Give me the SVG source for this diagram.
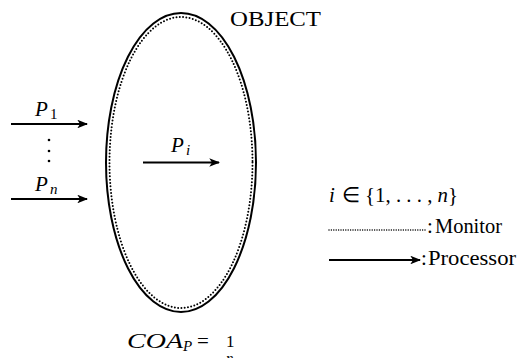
<svg xmlns="http://www.w3.org/2000/svg" width="517" height="358" viewBox="0 0 517 358">
<style>
.t{font-family:"Liberation Serif","Times New Roman",serif;font-size:21px;fill:#000}
.m{font-family:"Liberation Serif","Times New Roman",serif;font-style:italic;font-size:21px;fill:#000}
.s{font-size:15px}
.su{font-family:"Liberation Serif","Times New Roman",serif;font-size:15px;fill:#000}
.fr{font-family:"Liberation Serif","Times New Roman",serif;font-size:17px;fill:#000}
.arr{stroke:#000;stroke-width:1.8;fill:none;marker-end:url(#ah)}
.dot{stroke:#000;stroke-width:2;fill:none;stroke-linecap:round;stroke-dasharray:0 3.3}
.ldot{stroke:#000;stroke-width:1.5;fill:none;stroke-linecap:round;stroke-dasharray:0 2.4}
</style>
<defs>
<marker id="ah" viewBox="0 0 10 8" refX="9" refY="4" markerWidth="6" markerHeight="4.8" markerUnits="strokeWidth" orient="auto">
<path d="M0,0 L10,4 L0,8 L2.5,4 Z" fill="#000"/>
</marker>
</defs>
<rect width="517" height="358" fill="#fff"/>
<g id="object">
<ellipse cx="181" cy="162.5" rx="75" ry="149.5" fill="none" stroke="#000" stroke-width="2"/>
<ellipse class="dot" cx="181" cy="162.5" rx="71.5" ry="145.5"/>
<text class="t" x="230" y="26" textLength="91" lengthAdjust="spacingAndGlyphs">OBJECT</text>
</g>
<g id="connectors">
<line class="arr" x1="11" y1="124" x2="87" y2="124"/>
<line class="arr" x1="11" y1="199" x2="87" y2="199"/>
<line class="arr" x1="143" y1="162.5" x2="219" y2="162.5"/>
</g>
<g id="p1">
<text class="m" x="35" y="116">P</text><text class="su" x="50" y="119">1</text>
</g>
<g id="vdots">
<circle cx="49" cy="140" r="1.3" fill="#000"/>
<circle cx="49" cy="151" r="1.3" fill="#000"/>
<circle cx="49" cy="161" r="1.3" fill="#000"/>
</g>
<g id="pn">
<text class="m" x="35" y="191">P</text><text class="m s" x="50" y="194">n</text>
</g>
<g id="pi">
<text class="m" x="171" y="152">P</text><text class="m s" x="186" y="155">i</text>
</g>
<g id="legend">
<text class="m" x="329" y="202">i</text>
<text class="t" x="342" y="202" textLength="116" lengthAdjust="spacingAndGlyphs">∈ {1, . . . , <tspan font-style="italic">n</tspan>}</text>
<line class="ldot" x1="329" y1="230" x2="426" y2="230"/>
<text class="t" x="427" y="233">:</text>
<text class="t" x="435" y="233" textLength="67" lengthAdjust="spacingAndGlyphs">Monitor</text>
<line class="arr" x1="329" y1="260" x2="420" y2="260"/>
<text class="t" x="421" y="265">:</text>
<text class="t" x="428" y="265" textLength="88" lengthAdjust="spacingAndGlyphs">Processor</text>
</g>
<g id="formula">
<text class="m" x="127" y="348" textLength="56" lengthAdjust="spacingAndGlyphs">COA</text>
<text class="m s" x="183" y="351">P</text>
<text class="t" x="197" y="348">=</text>
<text class="fr" x="226" y="347">1</text>
<text class="m s" x="226" y="363">n</text>
</g>
</svg>
